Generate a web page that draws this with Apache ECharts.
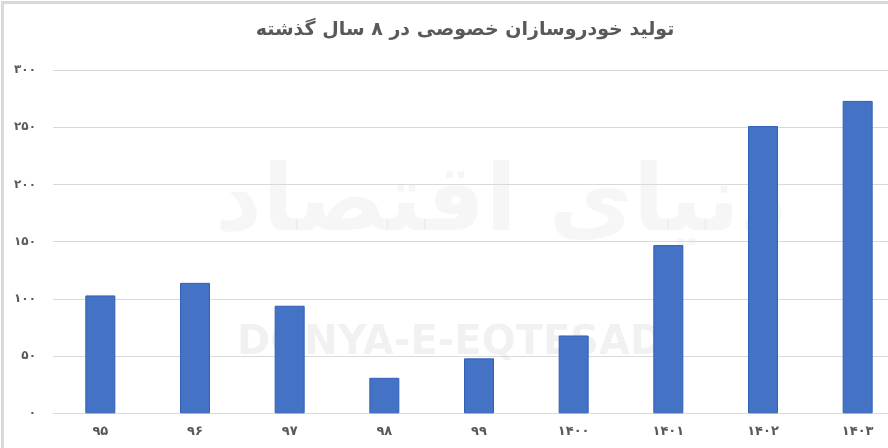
<!DOCTYPE html>
<html>
<head>
<meta charset="utf-8">
<script src="https://cdn.jsdelivr.net/npm/echarts@6/dist/echarts.min.js"></script>
<style>html,body{margin:0;padding:0;background:#fff;overflow:hidden;width:888px;height:448px}#c{width:905px;height:448px}</style>
</head>
<body>
<div id="c"></div>
<script>
const titleText = 'تولید خودروسازان خصوصی در ۸ سال گذشته';
const categories = ['۹۵', '۹۶', '۹۷', '۹۸', '۹۹', '۱۴۰۰', '۱۴۰۱', '۱۴۰۲', '۱۴۰۳'];
const production = [103, 114, 94, 31, 48, 68, 147, 251, 273];
const yMin = 0, yMax = 300, yStep = 50;
const faDigits = ['۰','۱','۲','۳','۴','۵','۶','۷','۸','۹'];
const toFa = v => String(v).replace(/[0-9]/g, d => faDigits[+d]);

const chart = echarts.init(document.getElementById('c'), null, {renderer: 'canvas'});
chart.setOption({
  backgroundColor: '#ffffff',
  animation: false,
  title: {
    text: titleText, left: 460, top: 16, textAlign: 'center',
    textStyle: {fontFamily: 'DejaVu Sans', fontSize: 19, fontWeight: 'bold', color: '#595959'}
  },
  graphic: [
    {type: 'rect', left: 0, top: 0, z: 100, silent: true,
     shape: {width: 887, height: 447}, style: {fill: 'none', stroke: '#d9d9d9', lineWidth: 3}},
    {type: 'text', left: 237, top: 324, z: 0, silent: true,
     style: {text: 'DONYA-E-EQTESAD', font: 'bold 40px "DejaVu Sans"', fill: 'rgba(0,0,0,0.055)'}},
    {type: 'text', left: 215, top: 160, z: 0, silent: true,
     style: {text: 'دنیای اقتصاد', font: 'bold 92px "DejaVu Sans"', fill: 'rgba(0,0,0,0.035)'}}
  ],
  grid: {left: 53, top: 70, right: 0, bottom: 34.7, containLabel: false},
  xAxis: {
    type: 'category', data: categories,
    axisLine: {show: true, lineStyle: {color: '#d9d9d9', width: 1}},
    axisTick: {show: false},
    axisLabel: {margin: 12, fontFamily: 'DejaVu Sans', fontSize: 13, fontWeight: 'bold', color: '#595959'}
  },
  yAxis: {
    type: 'value', min: yMin, max: yMax, interval: yStep,
    axisLine: {show: false}, axisTick: {show: false},
    splitLine: {lineStyle: {color: '#d9d9d9', width: 1}},
    axisLabel: {margin: 17, fontFamily: 'DejaVu Sans', fontSize: 12, fontWeight: 'bold', color: '#595959',
                formatter: v => toFa(v)}
  },
  series: [{
    type: 'bar', data: production, barWidth: 30,
    itemStyle: {color: '#4472C4', borderColor: '#2f5fb8', borderWidth: 1}
  }]
});
</script>
</body>
</html>
